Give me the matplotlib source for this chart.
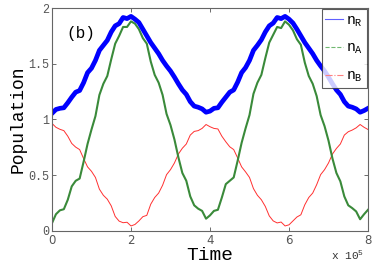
import numpy as np
import matplotlib
matplotlib.use("Agg")
import matplotlib.pyplot as plt
from matplotlib.lines import Line2D

plt.rcParams['mathtext.fontset'] = 'custom'
plt.rcParams['mathtext.rm'] = 'Liberation Mono'
plt.rcParams['mathtext.it'] = 'Liberation Mono'

# time in units of 1e5, sampled every 0.1
time = np.round(np.arange(81) * 0.1, 1)

n_R = [1.055, 1.09, 1.10, 1.105, 1.15, 1.20, 1.245, 1.26, 1.33, 1.42,
       1.46, 1.53, 1.62, 1.665, 1.71, 1.785, 1.84, 1.86, 1.915, 1.905,
       1.925, 1.90, 1.87, 1.81, 1.75, 1.69, 1.64, 1.59, 1.53, 1.48,
       1.435, 1.38, 1.32, 1.265, 1.225, 1.16, 1.12, 1.11, 1.095, 1.065,
       1.075, 1.10, 1.105, 1.155, 1.20, 1.245, 1.265, 1.335, 1.42, 1.465,
       1.53, 1.62, 1.665, 1.715, 1.785, 1.84, 1.865, 1.915, 1.905, 1.925,
       1.90, 1.865, 1.81, 1.75, 1.69, 1.64, 1.59, 1.53, 1.48, 1.435,
       1.38, 1.32, 1.265, 1.225, 1.16, 1.12, 1.11, 1.095, 1.065, 1.08,
       1.10]

n_A = [0.07, 0.15, 0.185, 0.195, 0.28, 0.40, 0.45, 0.47, 0.62, 0.78,
       0.91, 1.03, 1.22, 1.32, 1.39, 1.54, 1.68, 1.75, 1.83, 1.83,
       1.88, 1.86, 1.81, 1.73, 1.68, 1.52, 1.40, 1.33, 1.22, 1.05,
       0.95, 0.82, 0.66, 0.52, 0.45, 0.31, 0.23, 0.20, 0.18, 0.11,
       0.14, 0.18, 0.19, 0.30, 0.42, 0.45, 0.48, 0.63, 0.79, 0.92,
       1.04, 1.23, 1.33, 1.40, 1.55, 1.69, 1.76, 1.83, 1.82, 1.88,
       1.85, 1.80, 1.72, 1.67, 1.51, 1.39, 1.32, 1.21, 1.04, 0.94,
       0.81, 0.65, 0.52, 0.445, 0.31, 0.23, 0.205, 0.175, 0.105, 0.15,
       0.19]

n_B = [0.965, 0.93, 0.912, 0.90, 0.85, 0.785, 0.752, 0.73, 0.65, 0.575,
       0.535, 0.48, 0.375, 0.32, 0.285, 0.225, 0.13, 0.088, 0.074, 0.078,
       0.045, 0.058, 0.09, 0.128, 0.14, 0.24, 0.30, 0.34, 0.41, 0.505,
       0.55, 0.61, 0.69, 0.742, 0.78, 0.86, 0.893, 0.90, 0.92, 0.955,
       0.935, 0.92, 0.915, 0.85, 0.80, 0.755, 0.73, 0.655, 0.575, 0.53,
       0.48, 0.38, 0.32, 0.28, 0.22, 0.135, 0.09, 0.072, 0.08, 0.045,
       0.055, 0.09, 0.125, 0.145, 0.235, 0.30, 0.34, 0.415, 0.505, 0.55,
       0.61, 0.69, 0.74, 0.78, 0.86, 0.89, 0.905, 0.925, 0.955, 0.93,
       0.91]

fig = plt.figure(figsize=(3.74, 2.67), dpi=100)
ax = fig.add_axes([0.139, 0.135, 0.845, 0.835])

ax.plot(time, n_B, color='#ff3030', lw=0.7)
ax.plot(time, n_A, color='#3a8a3a', lw=1.5)
ax.plot(time, n_R, color='#0000ff', lw=3.4)

ax.set_xlim(0, 8)
ax.set_ylim(0, 2)
ax.set_xticks([0, 2, 4, 6, 8])
ax.set_yticks([0, 0.5, 1, 1.5, 2])
ax.set_yticklabels(['0', '0.5', '1', '1.5', '2'], family='Liberation Mono')
ax.tick_params(direction='in', length=3, width=0.6, colors='#555555',
               labelsize=8.5, top=True, right=True, pad=2)
for sp in ax.spines.values():
    sp.set_color('#666666')
    sp.set_linewidth(0.8)

ax.set_xlabel('Time', family='Liberation Mono', fontsize=14, labelpad=0)
ax.set_ylabel('Population', family='Liberation Mono', fontsize=13, labelpad=1)
ax.text(0.045, 0.865, '(b)', transform=ax.transAxes, family='Liberation Mono',
        fontsize=11.5)
fig.text(0.885, 0.025, r'x 10$^5$', family='Liberation Mono', fontsize=8,
         color='#333333')

handles = [Line2D([], [], color='#6060ff', lw=0.8),
           Line2D([], [], color='#70b870', lw=0.8, ls='--'),
           Line2D([], [], color='#ff8080', lw=0.8, ls='-.')]
labels = [r'n$_{\rm R}$', r'n$_{\rm A}$', r'n$_{\rm B}$']
leg = ax.legend(handles, labels, loc='upper right',
                prop={'family': 'Liberation Mono', 'size': 10.5},
                handlelength=1.2, handletextpad=0.2, labelspacing=0.85,
                borderpad=0.25, borderaxespad=0.1, fancybox=False)
leg.get_frame().set_edgecolor('#333333')
leg.get_frame().set_linewidth(0.8)

fig.savefig('out.png', dpi=100)
